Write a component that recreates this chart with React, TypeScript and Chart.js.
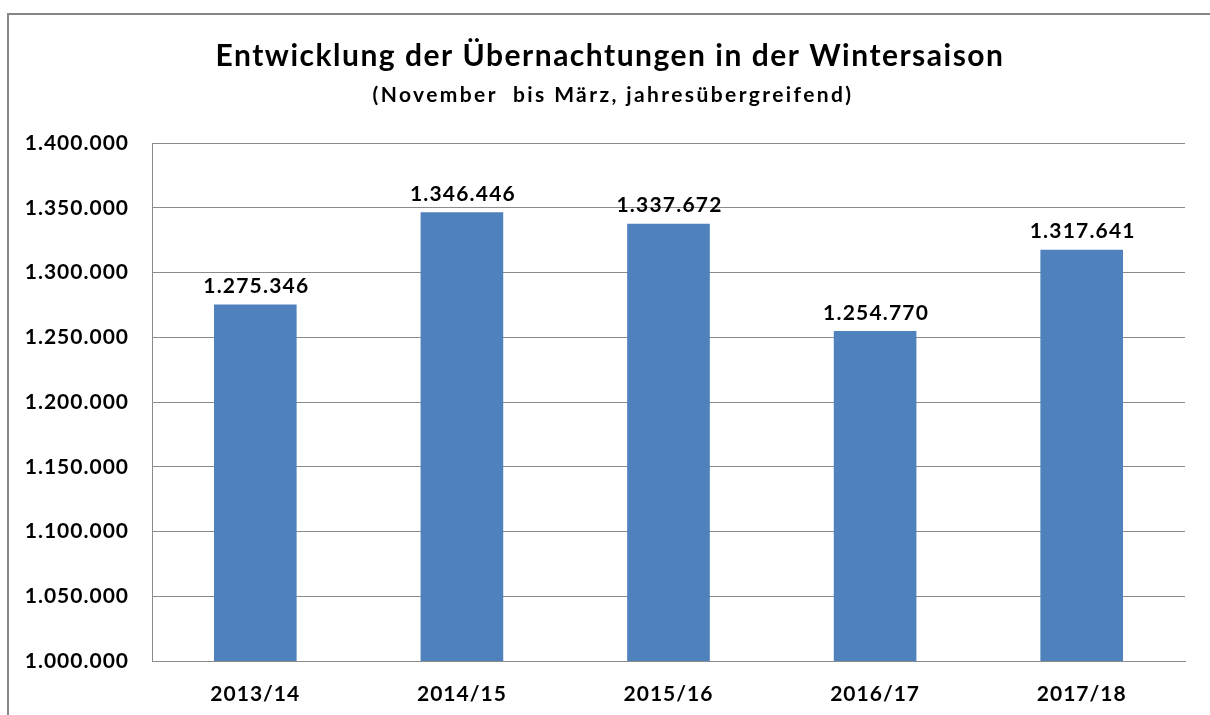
import React, { useEffect, useRef } from 'react';
import { Chart, registerables } from 'chart.js';

Chart.register(...registerables);

const categories = ['2013/14', '2014/15', '2015/16', '2016/17', '2017/18'];
const values = [1275346, 1346446, 1337672, 1254770, 1317641];
const yMin = 1000000;
const yMax = 1400000;
const yStep = 50000;
const titleText = 'Entwicklung der Übernachtungen in der Wintersaison';
const subtitleText = '(November  bis März, jahresübergreifend)';

const FONT = 'Lato, "Open Sans", sans-serif';
const BAR = '#4F81BD';
const GRID = '#8a8a8a';

const fmt = (n: number) => String(Math.round(n)).replace(/\B(?=(\d{3})+(?!\d))/g, '.');

export default function App() {
  const ref = useRef<HTMLCanvasElement | null>(null);
  useEffect(() => {
    document.body.style.margin = '0';
    const canvas = ref.current;
    if (!canvas) return;

    const framePlugin = {
      id: 'frame',
      beforeDraw(chart: any) {
        const ctx = chart.ctx;
        ctx.save();
        ctx.fillStyle = '#ffffff';
        ctx.fillRect(0, 0, chart.width, chart.height);
        ctx.strokeStyle = '#868686';
        ctx.lineWidth = 2;
        ctx.strokeRect(8, 14, chart.width + 20, chart.height + 20);
        ctx.restore();
        (ctx as any).letterSpacing = '1px';
      },
      afterDraw(chart: any) {
        (chart.ctx as any).letterSpacing = '0px';
      },
    };

    const titlePlugin = {
      id: 'titles',
      afterDraw(chart: any) {
        const ctx = chart.ctx;
        ctx.save();
        ctx.fillStyle = '#000000';
        ctx.textAlign = 'center';
        ctx.textBaseline = 'middle';
        (ctx as any).letterSpacing = '1.5px';
        ctx.font = `bold 30px ${FONT}`;
        ctx.fillText(titleText, 610, 56);
        (ctx as any).letterSpacing = '2.4px';
        ctx.font = `bold 21px ${FONT}`;
        ctx.fillText(subtitleText, 613, 95);
        ctx.restore();
      },
    };

    const labelPlugin = {
      id: 'valueLabels',
      afterDatasetsDraw(chart: any) {
        const ctx = chart.ctx;
        const meta = chart.getDatasetMeta(0);
        ctx.save();
        ctx.fillStyle = '#000000';
        ctx.textAlign = 'center';
        ctx.textBaseline = 'middle';
        (ctx as any).letterSpacing = '1.2px';
        ctx.font = `bold 21px ${FONT}`;
        meta.data.forEach((el: any, i: number) => {
          ctx.fillText(fmt(values[i]), el.x + 1, el.y - 18);
        });
        ctx.restore();
      },
    };

    const chart = new Chart(canvas, {
      type: 'bar',
      data: {
        labels: categories,
        datasets: [
          {
            data: values,
            backgroundColor: BAR,
            borderWidth: 0,
            categoryPercentage: 1,
            barPercentage: 0.4,
          },
        ],
      },
      options: {
        animation: false,
        responsive: false,
        devicePixelRatio: 1,
        layout: { padding: { top: 143, right: 25, left: 0, bottom: 0 } },
        plugins: {
          legend: { display: false },
          title: { display: false },
          tooltip: { enabled: false },
        },
        scales: {
          x: {
            grid: { display: false },
            border: { display: true, color: GRID, width: 1 },
            ticks: {
              color: '#000000',
              font: { family: FONT, size: 21, weight: 'bold' },
              padding: 13,
            },
            afterFit(scale: any) {
              scale.height = 54;
            },
          },
          y: {
            min: yMin,
            max: yMax,
            grid: { color: GRID, lineWidth: 1, drawTicks: false },
            border: { display: true, color: GRID, width: 1 },
            ticks: {
              stepSize: yStep,
              color: '#000000',
              font: { family: FONT, size: 21, weight: 'bold' },
              padding: 23,
              callback: (v: any) => fmt(Number(v)),
            },
            afterFit(scale: any) {
              scale.width = 152;
            },
          },
        },
      },
      plugins: [framePlugin, titlePlugin, labelPlugin],
    } as any);
    return () => chart.destroy();
  }, []);

  return (
    <div style={{ width: 1210, height: 715 }}>
      <canvas ref={ref} width={1210} height={715} style={{ display: 'block' }} />
    </div>
  );
}
